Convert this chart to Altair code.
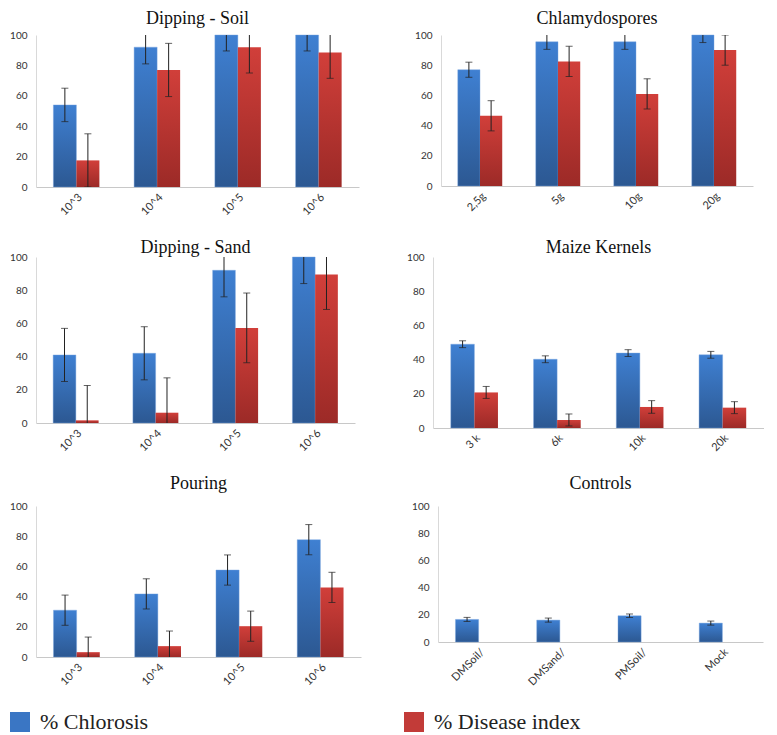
import altair as alt
import pandas as pd

S1 = "% Chlorosis"
S2 = "% Disease index"

# ---- data ----
titles = ["Dipping - Soil", "Chlamydospores", "Dipping - Sand", "Maize Kernels", "Pouring", "Controls"]

cats_dip_soil = ["10^3", "10^4", "10^5", "10^6"]
chl_dip_soil = [54, 92, 100, 100]
chl_err_dip_soil = [11, 11, 10.5, 10.5]
dis_dip_soil = [17.5, 77, 92, 88.5]
dis_err_dip_soil = [17.5, 17.5, 17, 17]

cats_chlamy = ["2,5g", "5g", "10g", "20g"]
chl_chlamy = [77, 95.5, 95.5, 100]
chl_err_chlamy = [5, 5, 5, 5]
dis_chlamy = [46.5, 82.5, 61, 90]
dis_err_chlamy = [10, 10, 10, 10]

cats_dip_sand = ["10^3", "10^4", "10^5", "10^6"]
chl_dip_sand = [41, 42, 92, 100]
chl_err_dip_sand = [16, 16, 16, 16]
dis_dip_sand = [1.6, 6.2, 57.3, 89.4]
dis_err_dip_sand = [21, 21, 21, 21]

cats_maize = ["3 k", "6k", "10k", "20k"]
chl_maize = [49, 40.2, 43.8, 42.8]
chl_err_maize = [2, 2, 2, 2]
dis_maize = [20.8, 4.7, 12.3, 11.9]
dis_err_maize = [3.5, 3.5, 3.7, 3.5]

cats_pouring = ["10^3", "10^4", "10^5", "10^6"]
chl_pouring = [31, 41.8, 57.6, 77.7]
chl_err_pouring = [10, 10, 10, 10]
dis_pouring = [3.2, 7.2, 20.4, 46.1]
dis_err_pouring = [10, 10, 10, 10]

cats_controls = ["DMSoil/", "DMSand/", "PMSoil/", "Mock"]
chl_controls = [16.6, 16.1, 19.3, 13.9]
chl_err_controls = [1.5, 1.5, 1.3, 1.5]

y_ticks = [0, 20, 40, 60, 80, 100]

# ---- styling ----
BLUE_GRAD = alt.Gradient(
    gradient="linear", x1=0, x2=0, y1=0, y2=1,
    stops=[alt.GradientStop(color="#3f80d2", offset=0),
           alt.GradientStop(color="#2c5892", offset=1)],
)
RED_GRAD = alt.Gradient(
    gradient="linear", x1=0, x2=0, y1=0, y2=1,
    stops=[alt.GradientStop(color="#d13f3a", offset=0),
           alt.GradientStop(color="#9c2a27", offset=1)],
)
AXIS_FONT = "Lato"
TITLE_FONT = "Liberation Serif"


def panel(title, cats, chl, chl_err, dis=None, dis_err=None, w=323, h=152, toff=4):
    rows = []
    for c, v, e in zip(cats, chl, chl_err):
        rows.append({"cat": c, "series": S1, "value": v, "lo": v - e, "hi": v + e})
    if dis is not None:
        for c, v, e in zip(cats, dis, dis_err):
            rows.append({"cat": c, "series": S2, "value": v, "lo": v - e, "hi": v + e})
    df = pd.DataFrame(rows)

    x = alt.X("cat:N", sort=cats,
              scale=alt.Scale(paddingInner=0.43, paddingOuter=0.215),
              axis=alt.Axis(title=None, labelAngle=-45, ticks=False, domainColor="#c8c8c8",
                            labelFont=AXIS_FONT, labelFontSize=11, labelColor="#333333",
                            labelPadding=4))
    xo = alt.XOffset("series:N", sort=[S1, S2],
                     scale=alt.Scale(domain=[S1, S2], paddingInner=0, paddingOuter=0))
    y_axis = alt.Axis(title=None, values=y_ticks, ticks=False, grid=False,
                      labelOverlap=False, domainColor="#d9d9d9", labelFont=AXIS_FONT,
                      labelFontSize=10, labelColor="#333333", labelPadding=9)
    yscale = alt.Scale(domain=[0, 100], nice=False)

    base = alt.Chart(df).encode(x=x, xOffset=xo)

    blue = base.transform_filter(alt.datum.series == S1).mark_bar(
        color=BLUE_GRAD, stroke="#7aa6e0", strokeWidth=0.6, strokeOpacity=0.7).encode(
        y=alt.Y("value:Q", scale=yscale, axis=y_axis))
    layers = [blue]
    if dis is not None:
        red = base.transform_filter(alt.datum.series == S2).mark_bar(color=RED_GRAD).encode(
            y=alt.Y("value:Q", axis=y_axis))
        layers.append(red)

    err = base.mark_rule(color="#222222", strokeWidth=1, clip=True).encode(
        y=alt.Y("lo:Q", axis=y_axis), y2="hi:Q")
    cap_hi = base.mark_tick(color="#222222", thickness=1, size=7, clip=True).encode(
        y=alt.Y("hi:Q", axis=y_axis))
    cap_lo = base.mark_tick(color="#222222", thickness=1, size=7, clip=True).encode(
        y=alt.Y("lo:Q", axis=y_axis))
    layers += [err, cap_hi, cap_lo]

    leg = base.mark_square(opacity=0).encode(
        y=alt.Y("value:Q", axis=y_axis),
        color=alt.Color("series:N",
                        scale=alt.Scale(domain=[S1, S2], range=["#3a76c4", "#c23b38"]),
                        legend=alt.Legend(title=None, orient="none", legendX=-27, legendY=676,
                                          direction="horizontal", symbolType="square",
                                          symbolSize=400, symbolOpacity=1, symbolStrokeWidth=0,
                                          labelFont=TITLE_FONT, labelFontSize=22,
                                          labelColor="#222222", labelOffset=9,
                                          columnPadding=254, labelLimit=400)))
    layers.append(leg)

    return alt.layer(*layers).properties(
        width=w, height=h,
        title=alt.TitleParams(title, font=TITLE_FONT, fontSize=18, fontWeight="normal",
                              color="#111111", anchor="middle", offset=toff),
    )


p1 = panel(titles[0], cats_dip_soil, chl_dip_soil, chl_err_dip_soil, dis_dip_soil, dis_err_dip_soil, 323, 152, 2)
p2 = panel(titles[1], cats_chlamy, chl_chlamy, chl_err_chlamy, dis_chlamy, dis_err_chlamy, 312, 151, 2)
p3 = panel(titles[2], cats_dip_sand, chl_dip_sand, chl_err_dip_sand, dis_dip_sand, dis_err_dip_sand, 319, 166, -5)
p4 = panel(titles[3], cats_maize, chl_maize, chl_err_maize, dis_maize, dis_err_maize, 331, 171, -5)
p5 = panel(titles[4], cats_pouring, chl_pouring, chl_err_pouring, dis_pouring, dis_err_pouring, 325, 151, 8)
p6 = panel(titles[5], cats_controls, chl_controls, chl_err_controls, None, None, 325, 136, 8)

row1 = alt.hconcat(p1, p2, spacing=55).resolve_scale(xOffset="independent")
row2 = alt.hconcat(p3, p4, spacing=51).resolve_scale(xOffset="independent")
row3 = alt.hconcat(p5, p6, spacing=50).resolve_scale(xOffset="independent")

chart = alt.vconcat(row1, row2, row3, spacing=22).resolve_scale(
    xOffset="independent", color="shared").resolve_legend(color="shared").properties(
    padding={"left": 1, "top": 2, "right": 0, "bottom": 0}
).configure_view(strokeWidth=0).configure_axisY(labelOverlap=False)

chart.save("out.html", embed_options={"renderer": "svg", "actions": False})
